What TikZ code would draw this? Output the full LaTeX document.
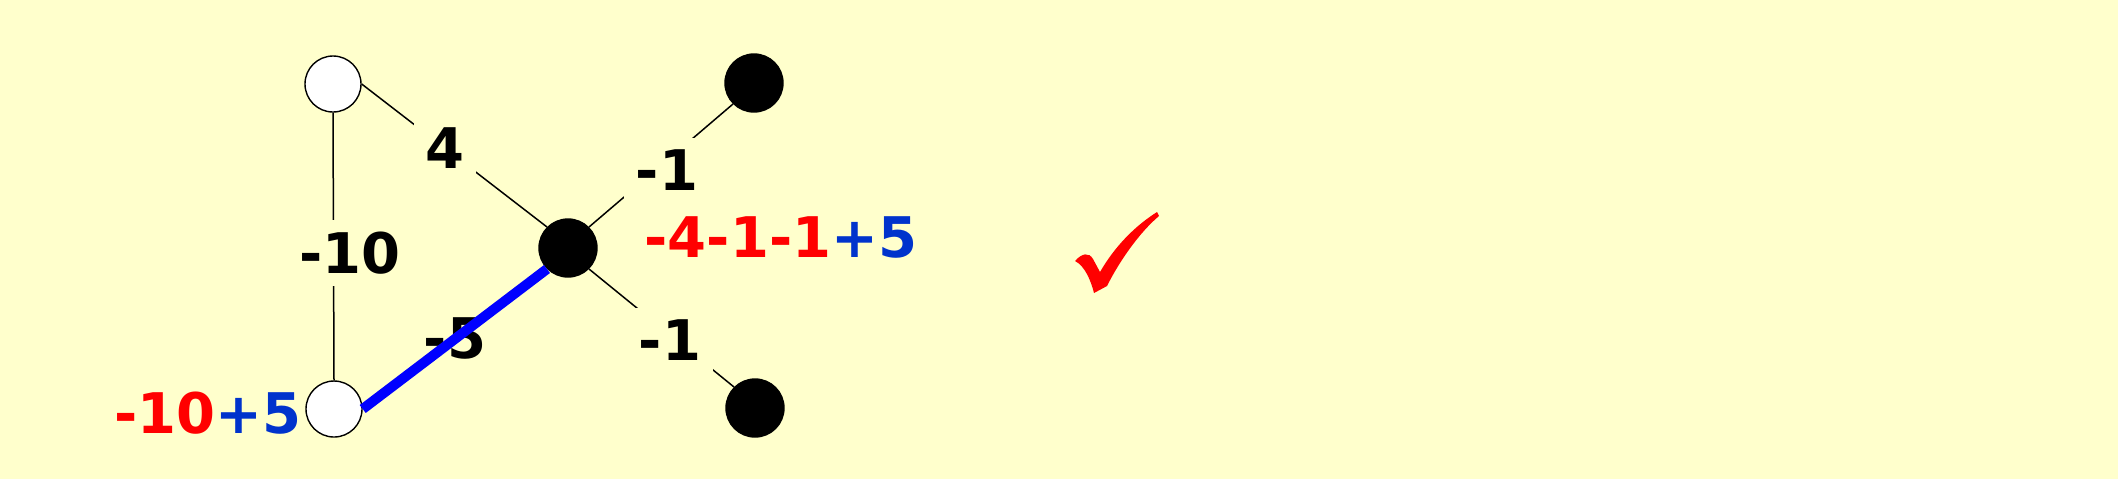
\documentclass[tikz,border=0pt]{standalone}
\usepackage{fontspec}
\setmainfont{DejaVu Sans}
\definecolor{bg}{RGB}{255,255,204}
\definecolor{sumred}{RGB}{255,0,0}
\definecolor{sumblue}{RGB}{0,51,204}
\definecolor{pathblue}{RGB}{0,0,255}
\newcommand\labfont{\fontsize{28}{28}\selectfont\bfseries}
\begin{document}
\begin{tikzpicture}[x=0.5pt,y=-0.5pt,
  vtx/.style={circle,draw=black,line width=0.7pt,minimum size=28pt,inner sep=0pt},
  wvtx/.style={vtx,fill=white},
  bvtx/.style={vtx,fill=black,minimum size=29pt},
  edgelab/.style={fill=bg,inner sep=6pt,font=\labfont,text=black},
  sumlab/.style={inner sep=0pt,font=\labfont},
  thin edge/.style={line width=0.75pt},
  match edge/.style={line width=5pt,draw=pathblue}]
\fill[bg] (0,0) rectangle (2118,479);
\useasboundingbox (0,0) rectangle (2118,479);
% vertices
\node[wvtx] (A) at (333,84) {};
\node[wvtx] (B) at (334,409) {};
\node[bvtx] (C) at (568,248) {};
\node[bvtx] (D) at (754,83) {};
\node[bvtx] (E) at (755,408) {};
% thin edges
\draw[thin edge] (A.east) -- (C.north west);
\draw[thin edge] (A.south) -- (B.north);
\draw[thin edge] (C.north east) -- (D.south west);
\draw[thin edge] (C.south east) -- (E.north west);
% edge labels
\node[edgelab] (l4) at (445,148) {4};
\node[edgelab] (l10) at (350,253) {-10};
\node[edgelab] (l1a) at (667,170) {-1};
\node[edgelab] (l1b) at (670,340) {-1};
\node[edgelab] (l5) at (455,338) {-5};
% matched edge
\draw[match edge] (B.east) -- (C.south west);
% vertex sums
\node[sumlab] (sB) at (208,413) {\textcolor{sumred}{-10}\textcolor{sumblue}{+5}};
\node[sumlab] (sC) at (781,237) {\textcolor{sumred}{-4-1-1}\textcolor{sumblue}{+5}};
% check mark
\fill[sumred] (1075,261) .. controls (1082,253) and (1089,252) .. (1093,259)
  -- (1100,272) .. controls (1115,246) and (1135,226) .. (1157,212)
  -- (1159,216) .. controls (1140,232) and (1120,260) .. (1107,286)
  -- (1094,293) .. controls (1091,281) and (1085,266) .. (1075,261) -- cycle;
\end{tikzpicture}
\end{document}
